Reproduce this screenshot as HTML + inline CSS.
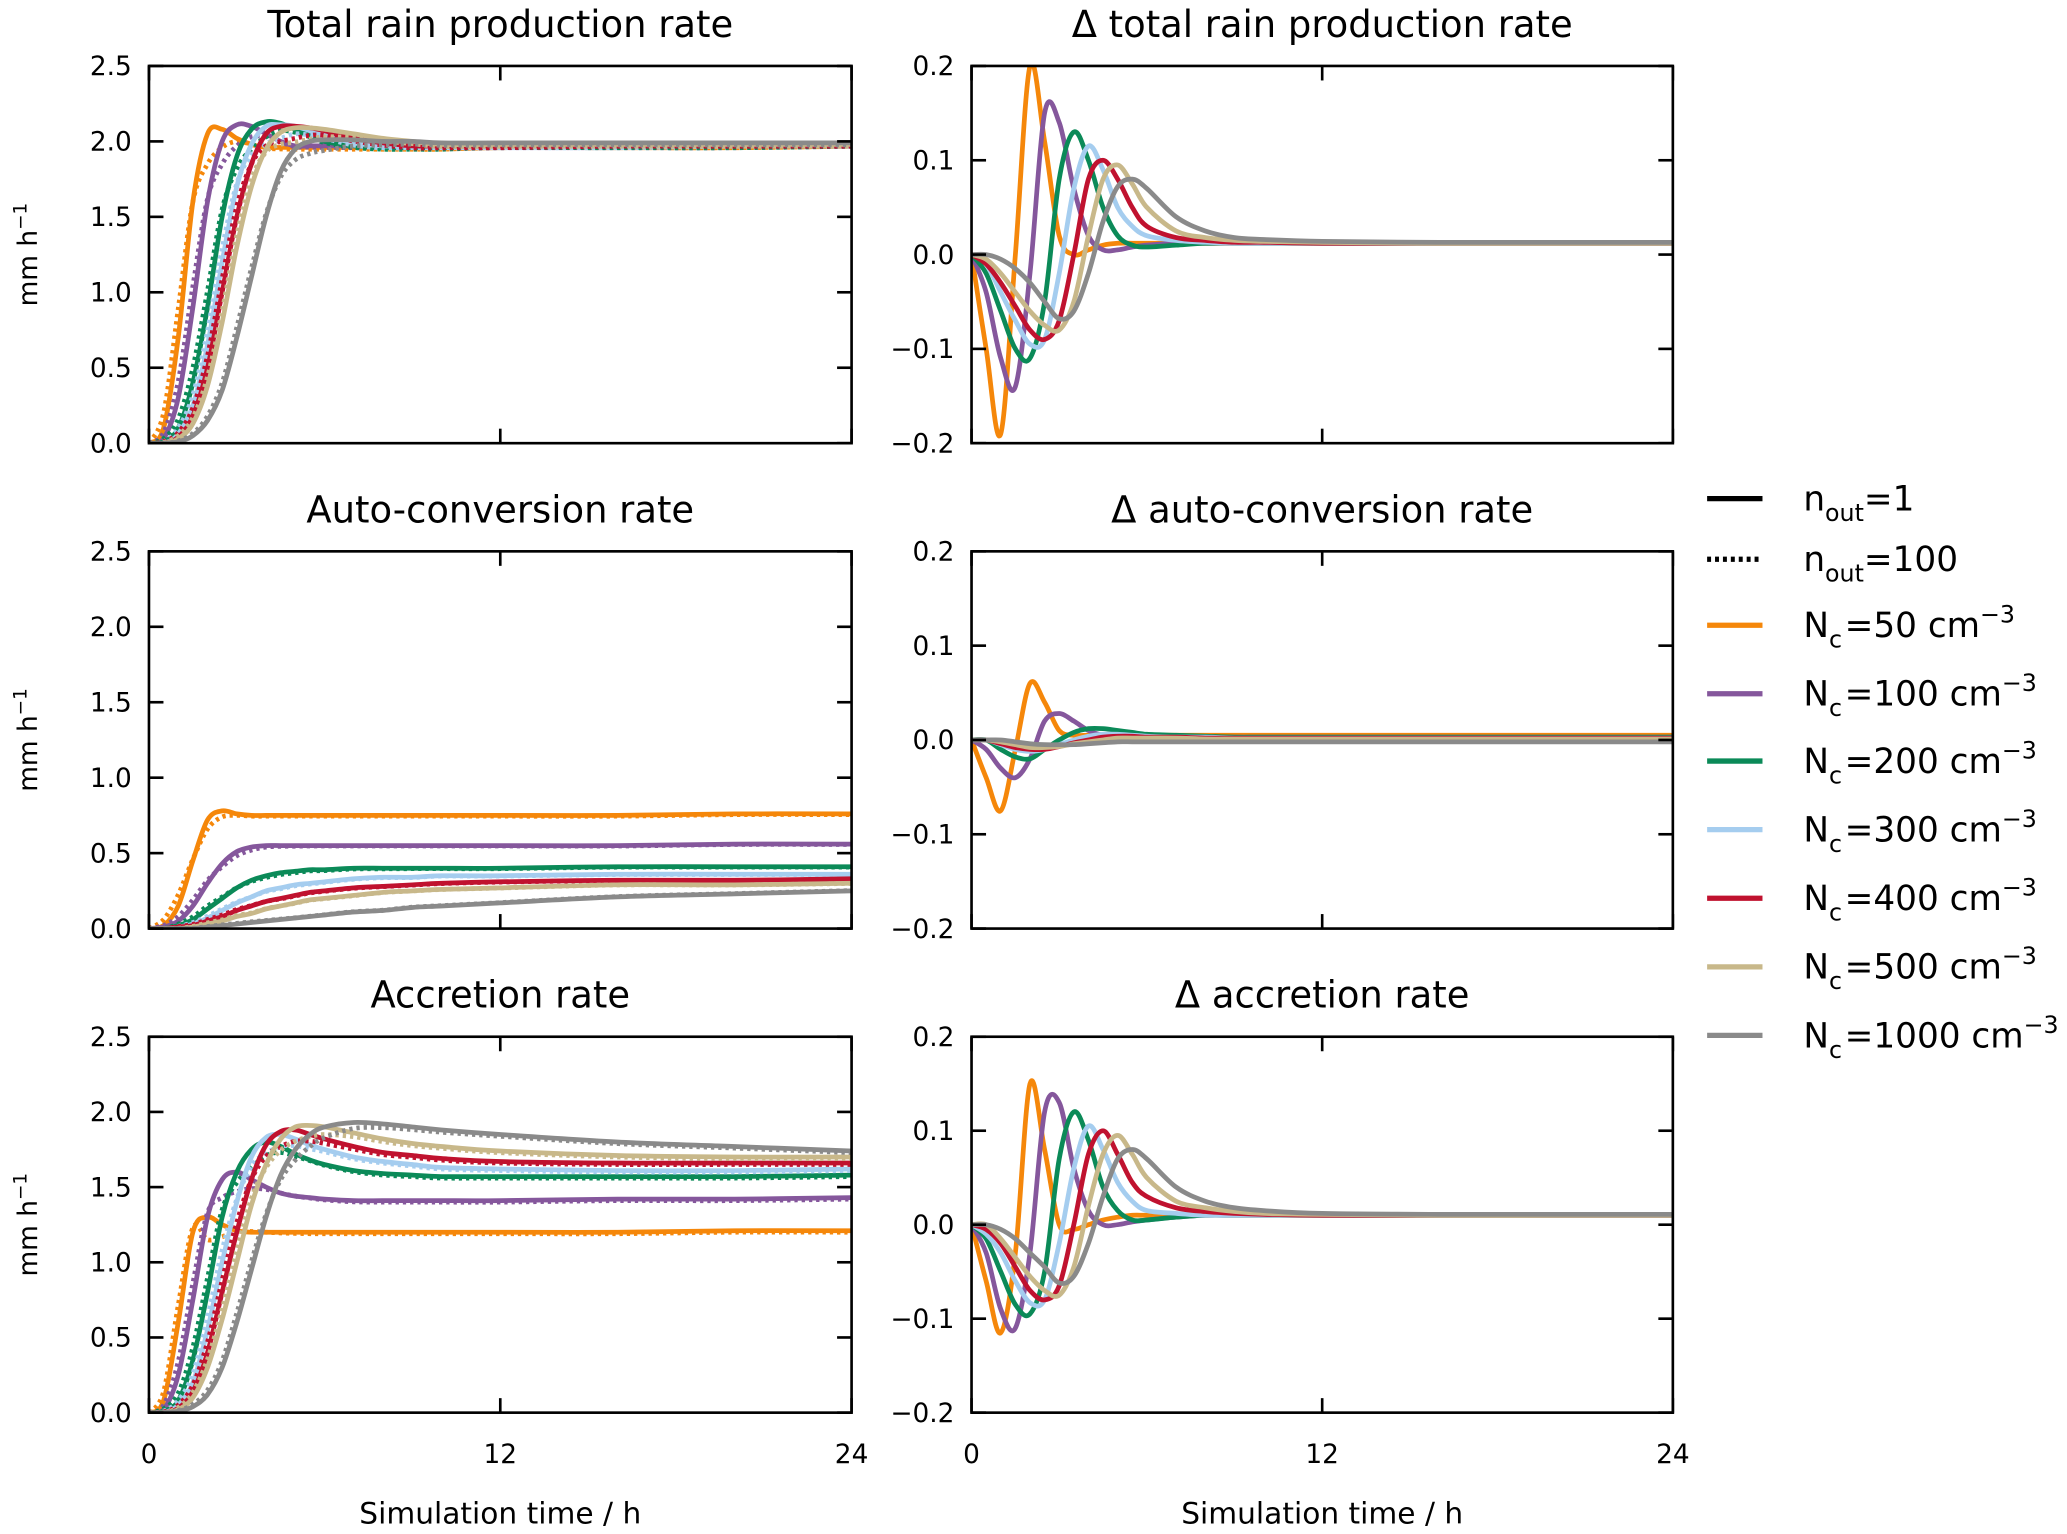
<!DOCTYPE html>
<html><head><meta charset="utf-8"><style>
html,body{margin:0;padding:0;background:#fff}
svg{display:block}
text{font-family:"DejaVu Sans","Liberation Sans",sans-serif;fill:#000}
</style></head><body>
<svg id="fig" xmlns="http://www.w3.org/2000/svg" width="2067" height="1534" viewBox="0 0 1568 1163" preserveAspectRatio="none">
<rect width="1568" height="1163" fill="#fff"/>
</svg>
<script>
const times=[0,0.5,1,1.5,2,2.5,3,3.5,4,4.5,5,5.5,6,7,8,9,10,12,16,20,24];
const seriesNames=["N50","N100","N200","N300","N400","N500","N1000"];
const colors=["#f5870a","#85579c","#0b8a58","#a5cdef","#c0122f","#c8b88a","#8a8a8a"];
const legendLabels=["50","100","200","300","400","500","1000"];
const totalRain=[
[0,0.1,0.7,1.6,2.05,2.08,2.02,1.98,1.96,1.96,1.96,1.96,1.96,1.96,1.96,1.96,1.96,1.97,1.97,1.97,1.98],
[0,0.03,0.3,0.9,1.6,2.0,2.11,2.1,2.05,2.0,1.97,1.97,1.97,1.97,1.97,1.97,1.97,1.97,1.97,1.97,1.98],
[0,0.01,0.1,0.4,0.9,1.5,1.9,2.08,2.13,2.12,2.08,2.04,2.0,1.97,1.96,1.96,1.96,1.97,1.97,1.97,1.98],
[0,0,0.06,0.25,0.65,1.2,1.7,1.98,2.1,2.11,2.1,2.07,2.04,1.99,1.97,1.97,1.97,1.97,1.97,1.98,1.98],
[0,0,0.04,0.18,0.5,1.0,1.5,1.85,2.05,2.1,2.1,2.09,2.07,2.02,1.99,1.97,1.97,1.97,1.98,1.98,1.98],
[0,0,0.03,0.13,0.38,0.8,1.3,1.7,1.95,2.06,2.09,2.09,2.08,2.05,2.02,2.0,1.98,1.98,1.98,1.98,1.98],
[0,0,0.01,0.05,0.15,0.35,0.7,1.1,1.5,1.8,1.95,2.0,2.01,2.01,2.0,2.0,1.99,1.99,1.99,1.99,1.99]];
const deltaTotal=[
[0,-0.1,-0.19,0.0,0.2,0.12,0.02,0.0,0.005,0.01,0.012,0.012,0.012,0.012,0.012,0.012,0.012,0.012,0.012,0.012,0.012],
[0,-0.04,-0.11,-0.14,-0.02,0.15,0.14,0.07,0.02,0.005,0.005,0.008,0.01,0.012,0.012,0.012,0.012,0.012,0.012,0.012,0.012],
[0,-0.02,-0.06,-0.1,-0.11,-0.05,0.08,0.13,0.1,0.05,0.02,0.01,0.008,0.01,0.012,0.012,0.012,0.012,0.012,0.012,0.012],
[0,-0.01,-0.04,-0.07,-0.095,-0.09,-0.02,0.07,0.115,0.09,0.05,0.03,0.02,0.015,0.013,0.012,0.012,0.012,0.012,0.012,0.012],
[0,-0.01,-0.03,-0.055,-0.08,-0.09,-0.07,0.0,0.08,0.1,0.08,0.05,0.03,0.018,0.015,0.013,0.013,0.012,0.012,0.012,0.012],
[0,-0.005,-0.02,-0.04,-0.06,-0.075,-0.08,-0.05,0.02,0.08,0.095,0.075,0.05,0.025,0.018,0.015,0.014,0.013,0.012,0.012,0.012],
[0,0,-0.005,-0.015,-0.03,-0.05,-0.068,-0.06,-0.02,0.035,0.072,0.08,0.07,0.04,0.025,0.018,0.016,0.014,0.013,0.013,0.013]];
const autoConv=[
[0,0.02,0.15,0.45,0.72,0.78,0.76,0.75,0.75,0.75,0.75,0.75,0.75,0.75,0.75,0.75,0.75,0.75,0.75,0.76,0.76],
[0,0.01,0.05,0.15,0.3,0.43,0.51,0.54,0.55,0.55,0.55,0.55,0.55,0.55,0.55,0.55,0.55,0.55,0.55,0.56,0.56],
[0,0,0.02,0.06,0.13,0.2,0.27,0.32,0.35,0.37,0.38,0.39,0.39,0.4,0.4,0.4,0.4,0.4,0.41,0.41,0.41],
[0,0,0.01,0.03,0.07,0.12,0.17,0.21,0.25,0.27,0.29,0.3,0.31,0.33,0.34,0.34,0.35,0.35,0.36,0.36,0.36],
[0,0,0.01,0.02,0.05,0.08,0.12,0.15,0.18,0.2,0.22,0.24,0.25,0.27,0.28,0.29,0.3,0.31,0.32,0.32,0.33],
[0,0,0,0.01,0.03,0.05,0.08,0.1,0.13,0.15,0.17,0.19,0.2,0.22,0.24,0.25,0.26,0.27,0.29,0.29,0.3],
[0,0,0,0,0.01,0.02,0.03,0.04,0.05,0.06,0.07,0.08,0.09,0.11,0.12,0.14,0.15,0.17,0.21,0.23,0.25]];
const deltaAuto=[
[0,-0.04,-0.075,-0.01,0.06,0.04,0.01,0.005,0.005,0.005,0.005,0.005,0.005,0.005,0.005,0.005,0.005,0.005,0.005,0.005,0.005],
[0,-0.01,-0.03,-0.04,-0.02,0.02,0.028,0.02,0.01,0.005,0.004,0.003,0.003,0.003,0.003,0.003,0.003,0.003,0.003,0.003,0.003],
[0,0,-0.01,-0.018,-0.02,-0.01,0.0,0.008,0.012,0.012,0.01,0.008,0.006,0.005,0.004,0.003,0.003,0.003,0.003,0.003,0.003],
[0,0,-0.005,-0.01,-0.012,-0.01,-0.005,0.0,0.004,0.006,0.006,0.005,0.004,0.003,0.003,0.002,0.002,0.002,0.002,0.002,0.002],
[0,0,-0.004,-0.008,-0.01,-0.01,-0.007,-0.003,0.0,0.003,0.004,0.004,0.003,0.003,0.002,0.002,0.002,0.002,0.002,0.002,0.002],
[0,0,-0.002,-0.005,-0.008,-0.008,-0.007,-0.004,-0.002,0.0,0.002,0.002,0.002,0.002,0.001,0.001,0.001,0.001,0.001,0.001,0.001],
[0,0,0,-0.002,-0.004,-0.005,-0.005,-0.005,-0.004,-0.003,-0.002,-0.002,-0.002,-0.002,-0.002,-0.002,-0.002,-0.002,-0.002,-0.002,-0.002]];
const accretion=[
[0,0.08,0.6,1.2,1.3,1.25,1.21,1.2,1.2,1.2,1.2,1.2,1.2,1.2,1.2,1.2,1.2,1.2,1.2,1.21,1.21],
[0,0.02,0.25,0.75,1.3,1.55,1.6,1.55,1.5,1.46,1.44,1.43,1.42,1.41,1.41,1.41,1.41,1.41,1.42,1.42,1.43],
[0,0.01,0.08,0.35,0.8,1.3,1.6,1.75,1.8,1.77,1.72,1.68,1.65,1.61,1.59,1.58,1.57,1.57,1.57,1.57,1.58],
[0,0,0.05,0.2,0.55,1.0,1.4,1.7,1.83,1.85,1.82,1.78,1.75,1.7,1.67,1.65,1.63,1.62,1.61,1.61,1.62],
[0,0,0.03,0.14,0.4,0.8,1.2,1.55,1.78,1.87,1.88,1.85,1.82,1.77,1.73,1.71,1.69,1.67,1.66,1.66,1.66],
[0,0,0.02,0.1,0.3,0.62,1.0,1.38,1.65,1.82,1.9,1.91,1.9,1.86,1.82,1.79,1.77,1.74,1.71,1.7,1.7],
[0,0,0.01,0.04,0.12,0.3,0.6,0.95,1.3,1.58,1.75,1.85,1.9,1.93,1.92,1.9,1.88,1.85,1.8,1.77,1.74]];
const deltaAccr=[
[0,-0.06,-0.115,-0.03,0.15,0.08,0.0,-0.005,0.0,0.005,0.008,0.01,0.01,0.01,0.01,0.01,0.01,0.01,0.01,0.01,0.01],
[0,-0.03,-0.09,-0.11,-0.03,0.12,0.13,0.06,0.015,0.0,0.0,0.003,0.005,0.008,0.01,0.01,0.01,0.01,0.01,0.01,0.01],
[0,-0.015,-0.05,-0.085,-0.095,-0.05,0.07,0.12,0.09,0.04,0.015,0.005,0.005,0.008,0.01,0.01,0.01,0.01,0.01,0.01,0.01],
[0,-0.01,-0.03,-0.06,-0.083,-0.08,-0.02,0.06,0.105,0.08,0.045,0.025,0.015,0.012,0.01,0.01,0.01,0.01,0.01,0.01,0.01],
[0,-0.005,-0.02,-0.045,-0.07,-0.08,-0.065,0.0,0.075,0.1,0.075,0.045,0.03,0.018,0.014,0.012,0.011,0.01,0.01,0.01,0.01],
[0,0,-0.015,-0.035,-0.055,-0.07,-0.075,-0.045,0.02,0.075,0.095,0.075,0.05,0.025,0.018,0.014,0.012,0.011,0.01,0.01,0.01],
[0,0,-0.005,-0.015,-0.03,-0.045,-0.062,-0.055,-0.02,0.03,0.07,0.08,0.07,0.04,0.025,0.018,0.015,0.012,0.011,0.011,0.011]];
const xTicks=[0,12,24];
const leftTicks=[0,0.5,1,1.5,2,2.5];
const rightTicks=[-0.2,-0.1,0,0.1,0.2];

const NS="http://www.w3.org/2000/svg";
const svg=document.getElementById('fig');
function el(tag,attrs,parent){const e=document.createElementNS(NS,tag);for(const k in attrs)e.setAttribute(k,attrs[k]);(parent||svg).appendChild(e);return e;}
const rows=[{y0:50,y1:336},{y0:418,y1:704},{y0:786,y1:1071}];
const cols=[{x0:113,x1:646},{x0:737,x1:1269}];
const titles=[["Total rain production rate","Δ  total rain production rate"],["Auto-conversion rate","Δ  auto-conversion rate"],["Accretion rate","Δ  accretion rate"]];
const absData=[totalRain,autoConv,accretion];
const delData=[deltaTotal,deltaAuto,deltaAccr];
const defs=el('defs',{});
function pathFrom(xs,ys){let d='M'+xs[0].toFixed(2)+','+ys[0].toFixed(2);
 for(let i=0;i<xs.length-1;i++){const p0=i>0?i-1:i,p3=i+2<xs.length?i+2:i+1;
  const c1x=xs[i]+(xs[i+1]-xs[p0])/6,c1y=ys[i]+(ys[i+1]-ys[p0])/6;
  const c2x=xs[i+1]-(xs[p3]-xs[i])/6,c2y=ys[i+1]-(ys[p3]-ys[i])/6;
  d+=' C'+c1x.toFixed(2)+','+c1y.toFixed(2)+' '+c2x.toFixed(2)+','+c2y.toFixed(2)+' '+xs[i+1].toFixed(2)+','+ys[i+1].toFixed(2);}
 return d;}
rows.forEach((r,ri)=>{cols.forEach((c,ci)=>{
 const ymin=ci===0?0:-0.2,ymax=ci===0?2.5:0.2;
 const X=t=>c.x0+(t/24)*(c.x1-c.x0);
 const Y=v=>r.y1-(v-ymin)/(ymax-ymin)*(r.y1-r.y0);
 const g=el('g',{});
 
 
 const cid='clip'+ri+ci;
 const cp=el('clipPath',{id:cid},defs);el('rect',{x:c.x0,y:r.y0,width:c.x1-c.x0,height:r.y1-r.y0},cp);
 const lg=el('g',{'clip-path':'url(#'+cid+')'},g);
 const xs=times.map(X);
 seriesNames.forEach((nm,si)=>{
  if(ci===0){
   const dot=el('path',{d:pathFrom(xs,absData[ri][si].map((v,i)=>Y(v-delData[ri][si][i]))),fill:'none',stroke:colors[si],'stroke-width':3.6,'stroke-dasharray':'2.5,3'},lg);
   
   
   const sol=el('path',{d:pathFrom(xs,absData[ri][si].map(Y)),fill:'none',stroke:colors[si],'stroke-width':3.6},lg);
   
   
  } else {
   const sol=el('path',{d:pathFrom(xs,delData[ri][si].map(Y)),fill:'none',stroke:colors[si],'stroke-width':3.6},lg);
   
   
  }
 });
 el('rect',{x:c.x0,y:r.y0,width:c.x1-c.x0,height:r.y1-r.y0,fill:'none',stroke:'#000','stroke-width':2},g);
 const yt=ci===0?leftTicks:rightTicks;
 yt.forEach(v=>{const y=Y(v);
  el('line',{x1:c.x0,x2:c.x0+11,y1:y,y2:y,stroke:'#000','stroke-width':2},g);
  el('line',{x1:c.x1-11,x2:c.x1,y1:y,y2:y,stroke:'#000','stroke-width':2},g);
  const tx=el('text',{x:c.x0-13,y:y+7,'text-anchor':'end','font-size':20},g);
  tx.textContent=ci===0?v.toFixed(1):(v<0?'−':'')+Math.abs(v).toFixed(1);
  
  
 });
 xTicks.forEach(t=>{const x=X(t);
  el('line',{x1:x,x2:x,y1:r.y1-11,y2:r.y1,stroke:'#000','stroke-width':2},g);
  el('line',{x1:x,x2:x,y1:r.y0,y2:r.y0+11,stroke:'#000','stroke-width':2},g);
  if(ri===2){const tx=el('text',{x:x,y:r.y1+38,'text-anchor':'middle','font-size':20},g);tx.textContent=t;
   
   }
 });
 const tt=el('text',{x:(c.x0+c.x1)/2,y:r.y0-22,'text-anchor':'middle','font-size':28},g);tt.textContent=titles[ri][ci];
 
 
 if(ci===0){const yl=el('text',{x:0,y:0,'text-anchor':'middle','font-size':20,transform:'translate(28,'+((r.y0+r.y1)/2)+') rotate(-90)'},g);
  yl.innerHTML='mm h<tspan dy="-8" font-size="14">−1</tspan>';
  
  }
 if(ri===2){const xl=el('text',{x:(c.x0+c.x1)/2,y:1155,'text-anchor':'middle','font-size':22.5},g);xl.textContent='Simulation time / h';
  
  }
});});
const leg=el('g',{});


const legY=[378,424,474,526,577,629,681,733,785];
function legendEntry(i,color,dash,html){
 const g=el('g',{},leg);
 
 
 const a={x1:1295,x2:1337,y1:legY[i],y2:legY[i],stroke:color,'stroke-width':4};if(dash)a['stroke-dasharray']='3,3';
 el('line',a,g);
 const t=el('text',{x:1368,y:legY[i]+9,'font-size':26},g);t.innerHTML=html;}
legendEntry(0,'#000',false,'n<tspan dy="8" font-size="18">out</tspan><tspan dy="-8">=1</tspan>');
legendEntry(1,'#000',true,'n<tspan dy="8" font-size="18">out</tspan><tspan dy="-8">=100</tspan>');
legendLabels.forEach((l,i)=>legendEntry(i+2,colors[i],false,'N<tspan dy="8" font-size="18">c</tspan><tspan dy="-8" dx="2">=' + l + ' cm</tspan><tspan dy="-11" font-size="18">−3</tspan>'));
</script>
</body></html>
